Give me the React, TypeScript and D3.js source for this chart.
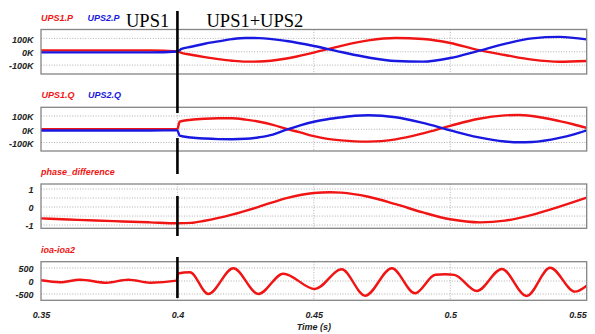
import React from "react";
import * as d3 from "d3";

// ---------- DATA ----------
const xTickValues = [0.35, 0.4, 0.45, 0.5, 0.55];
const xTickLabels = ["0.35", "0.4", "0.45", "0.5", "0.55"];
const xGridValues = [0.4, 0.45, 0.5];

// Panel 1: active power (K)
const pTime = [0.35, 0.36, 0.37, 0.38, 0.39, 0.4, 0.4015, 0.405, 0.41, 0.415, 0.42, 0.425, 0.43, 0.44, 0.45, 0.46, 0.47, 0.48, 0.49, 0.5, 0.51, 0.52, 0.53, 0.54, 0.55];
const ups1P = [10, 10, 10, 10, 10, 2, -8, -22, -40, -55, -67, -74, -73, -50, -6, 44, 85, 103, 95, 65, 14, -24, -59, -75, -69];
const ups2P = [-5, -5, -5, -5, -5, 2, 22, 37, 60, 77, 94, 103, 102, 80, 43, -2, -43, -69, -74, -47, 5, 59, 100, 111, 92];
const pTickValues = [100, 0, -100];
const pTickLabels = ["100K", "0K", "-100K"];

// Panel 2: reactive power (K)
const qTime = [0.35, 0.36, 0.37, 0.38, 0.39, 0.4, 0.4008, 0.405, 0.41, 0.415, 0.42, 0.425, 0.43, 0.435, 0.44, 0.445, 0.45, 0.455, 0.46, 0.465, 0.47, 0.48, 0.49, 0.5, 0.51, 0.52, 0.525, 0.53, 0.54, 0.545, 0.55];
const ups1Q = [1, 1, 1, 1, 1, 2, 58, 72, 80, 83, 83, 73, 57, 33, 3, -24, -52, -72, -84, -91, -93, -76, -31, 26, 78, 105, 108, 100, 62, 38, 10];
const ups2Q = [-9, -9, -9, -9, -9, -8, -48, -62, -70, -74, -75, -72, -60, -40, -3, 30, 57, 76, 90, 102, 106, 91, 48, -8, -59, -92, -98, -96, -65, -40, -8];
const qTickValues = [100, 0, -100];
const qTickLabels = ["100K", "0K", "-100K"];

// Panel 3: phase difference
const phTime = [0.35, 0.36, 0.37, 0.38, 0.39, 0.4, 0.405, 0.41, 0.42, 0.43, 0.44, 0.45, 0.456, 0.46, 0.47, 0.48, 0.49, 0.5, 0.511, 0.52, 0.53, 0.54, 0.55];
const phaseDiff = [-0.63, -0.69, -0.75, -0.8, -0.85, -0.9, -0.88, -0.76, -0.42, 0.02, 0.5, 0.78, 0.82, 0.8, 0.57, 0.16, -0.3, -0.68, -0.85, -0.755, -0.43, 0.02, 0.52];
const phTickValues = [1, 0, -1];
const phTickLabels = ["1", "0", "-1"];
const phGridValues = [1, 0.5, 0, -0.5, -1];

// Panel 4: ioa - ioa2
const ioTime = [0.35, 0.357, 0.3643, 0.3741, 0.382, 0.39, 0.3997, 0.4002, 0.4046, 0.4113, 0.4205, 0.4297, 0.4388, 0.4504, 0.4602, 0.4688, 0.4786, 0.4871, 0.4945, 0.4981, 0.5015, 0.5097, 0.5189, 0.528, 0.5366, 0.5457, 0.55];
const ioaDiff = [27, -50, 50, -65, 50, -65, 12, 290, 335, -500, 490, -500, 280, -308, 450, -565, 490, -473, 240, 258, 235, -385, 460, -577, 512, -410, -180];
const ioTickValues = [500, 0, -500];
const ioTickLabels = ["500", "0", "-500"];

// ---------- LAYOUT ----------
const W = 595;
const H = 334;
const X0 = 41;
const X1 = 586.7;
const RED = "#f01414";
const BLUE = "#1818e0";
const LABEL_FONT = "'Liberation Sans Narrow', 'Arial Narrow', 'Liberation Sans', Arial, sans-serif";

const x = d3.scaleLinear().domain([0.35, 0.55]).range([X0, X1]);

type Series = { t: number[]; v: number[]; color: string };
type PanelDef = {
  top: number;
  bottom: number;
  domain: [number, number];
  ticks: number[];
  tickLabels: string[];
  grid: number[];
  legend: { text: string; color: string; x: number }[];
  series: Series[];
};

const panels: PanelDef[] = [
  {
    top: 29.5, bottom: 74, domain: [-166, 166],
    ticks: pTickValues, tickLabels: pTickLabels, grid: pTickValues,
    legend: [{ text: "UPS1.P", color: RED, x: 41 }, { text: "UPS2.P", color: BLUE, x: 87.5 }],
    series: [{ t: pTime, v: ups1P, color: RED }, { t: pTime, v: ups2P, color: BLUE }],
  },
  {
    top: 107.3, bottom: 151, domain: [-164, 166],
    ticks: qTickValues, tickLabels: qTickLabels, grid: qTickValues,
    legend: [{ text: "UPS1.Q", color: RED, x: 41.5 }, { text: "UPS2.Q", color: BLUE, x: 88 }],
    series: [{ t: qTime, v: ups1Q, color: RED }, { t: qTime, v: ups2Q, color: BLUE }],
  },
  {
    top: 184, bottom: 228.3, domain: [-1.18, 1.28],
    ticks: phTickValues, tickLabels: phTickLabels, grid: phGridValues,
    legend: [{ text: "phase_difference", color: RED, x: 41 }],
    series: [{ t: phTime, v: phaseDiff, color: RED }],
  },
  {
    top: 261.7, bottom: 300.3, domain: [-742, 742],
    ticks: ioTickValues, tickLabels: ioTickLabels, grid: ioTickValues,
    legend: [{ text: "ioa-ioa2", color: RED, x: 41 }],
    series: [{ t: ioTime, v: ioaDiff, color: RED }],
  },
];

const markerSegments: [number, number][] = [[11, 113], [138, 174], [196, 236], [257, 298]];

function Panel({ p, i }: { p: PanelDef; i: number }) {
  const y = d3.scaleLinear().domain(p.domain).range([p.bottom, p.top]);
  const clipId = `clip-${i}`;
  return (
    <g>
      <defs>
        <clipPath id={clipId}>
          <rect x={X0} y={p.top} width={X1 - X0} height={p.bottom - p.top} />
        </clipPath>
      </defs>
      <rect x={X0} y={p.top} width={X1 - X0} height={p.bottom - p.top} fill="#fff" />
      {p.grid.map((g, k) => (
        <line key={"h" + k} x1={X0} x2={X1} y1={y(g)} y2={y(g)} stroke="#a8a8a8" strokeWidth={0.9} strokeDasharray="1,1.6" />
      ))}
      {xGridValues.map((g, k) => (
        <line key={"v" + k} x1={x(g)} x2={x(g)} y1={p.top} y2={p.bottom} stroke="#a8a8a8" strokeWidth={0.9} strokeDasharray="1,1.6" />
      ))}
      <g clipPath={`url(#${clipId})`}>
        {p.series.map((s, k) => {
          const line = d3
            .line<number>()
            .x((_, j) => x(s.t[j]))
            .y((d) => y(d))
            .curve(d3.curveMonotoneX);
          return <path key={k} d={line(s.v) || ""} fill="none" stroke={s.color} strokeWidth={2.4} strokeLinejoin="round" />;
        })}
      </g>
      <rect x={X0} y={p.top} width={X1 - X0} height={p.bottom - p.top} fill="none" stroke="#858585" strokeWidth={1.3} />
      {p.ticks.map((t, k) => (
        <text key={"t" + k} x={33.5} y={y(t) + 4.3} textAnchor="end" fontFamily={LABEL_FONT} fontSize={9} fontWeight="bold" fontStyle="italic" fill="#222">
          {p.tickLabels[k]}
        </text>
      ))}
      {p.legend.map((l, k) => (
        <text key={"l" + k} x={l.x} y={p.top - 9} fontFamily={LABEL_FONT} fontSize={9} fontWeight="bold" fontStyle="italic" fill={l.color}>
          {l.text}
        </text>
      ))}
    </g>
  );
}

export default function App() {
  return (
    <svg width={W} height={H} style={{ position: "absolute", left: 0, top: 0, background: "#fff" }}>
      <rect x={0} y={0} width={W} height={H} fill="#fff" />
      {panels.map((p, i) => (
        <Panel key={i} p={p} i={i} />
      ))}
      {markerSegments.map(([a, b], k) => (
        <line key={k} x1={x(0.4)} x2={x(0.4)} y1={a} y2={b} stroke="#000" strokeWidth={2.6} />
      ))}
      <text x={126} y={27} fontFamily="'Liberation Serif', 'Times New Roman', serif" fontSize={18.5} fill="#000">UPS1</text>
      <text x={206.5} y={27} fontFamily="'Liberation Serif', 'Times New Roman', serif" fontSize={18.5} fill="#000">UPS1+UPS2</text>
      {xTickValues.map((t, k) => (
        <text
          key={k}
          x={k === xTickValues.length - 1 ? x(t) : x(t) + 0.5}
          y={318}
          textAnchor={k === xTickValues.length - 1 ? "end" : "middle"}
          fontFamily={LABEL_FONT}
          fontSize={9}
          fontWeight="bold"
          fontStyle="italic"
          fill="#222"
        >
          {xTickLabels[k]}
        </text>
      ))}
      <text x={x(0.45)} y={330} textAnchor="middle" fontFamily={LABEL_FONT} fontSize={9} fontWeight="bold" fontStyle="italic" fill="#222">
        Time (s)
      </text>
    </svg>
  );
}
